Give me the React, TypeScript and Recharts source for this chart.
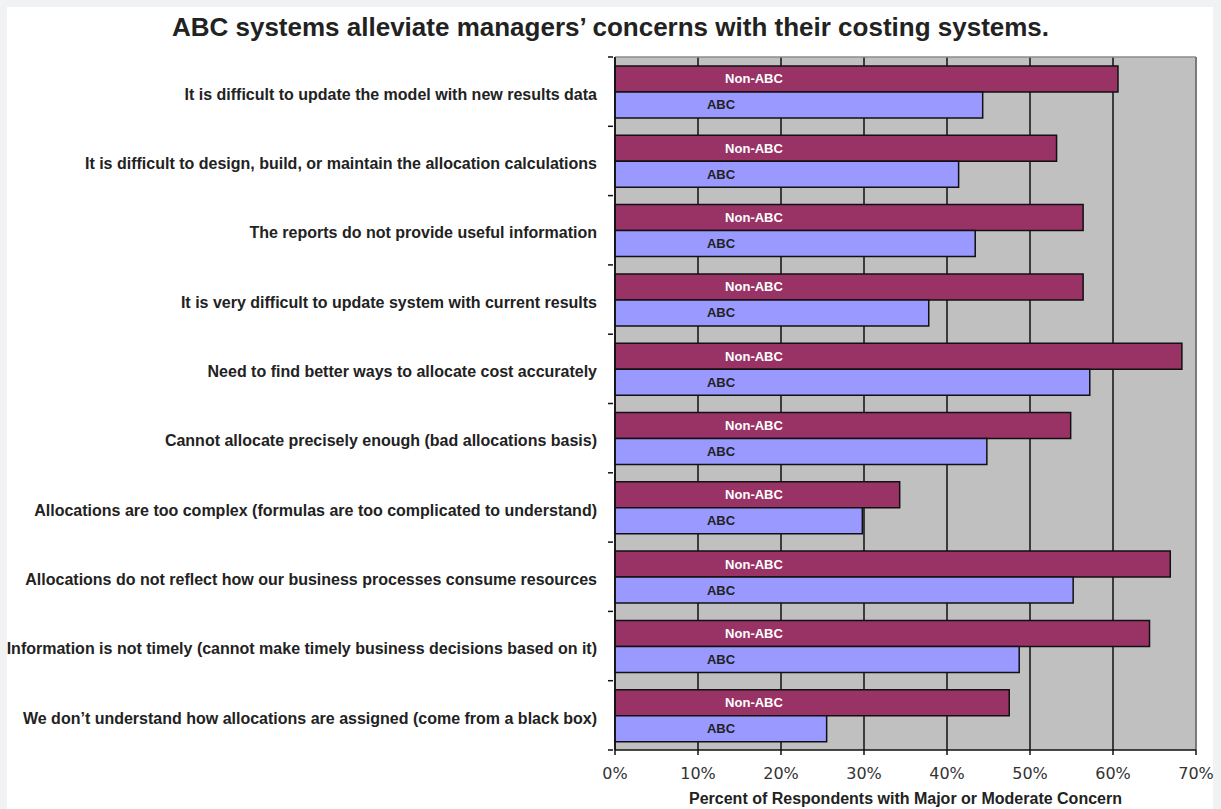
import React from 'react';
import {
  BarChart,
  Bar,
  XAxis,
  YAxis,
  CartesianGrid,
  ReferenceLine,
  LabelList,
  Label,
} from 'recharts';

const concerns = [
  'It is difficult to update the model with new results data',
  'It is difficult to design, build, or maintain the allocation calculations',
  'The reports do not provide useful information',
  'It is very difficult to update system with current results',
  'Need to find better ways to allocate cost accurately',
  'Cannot allocate precisely enough (bad allocations basis)',
  'Allocations are too complex (formulas are too complicated to understand)',
  'Allocations do not reflect how our business processes consume resources',
  'Information is not timely (cannot make timely business decisions based on it)',
  'We don’t understand how allocations are assigned (come from a black box)',
];

const nonAbcShare = [60.6, 53.2, 56.4, 56.4, 68.3, 54.9, 34.3, 66.9, 64.4, 47.5];
const abcShare = [44.3, 41.4, 43.4, 37.8, 57.2, 44.8, 29.8, 55.2, 48.7, 25.5];

const percentTicks = [0, 10, 20, 30, 40, 50, 60, 70];

const data = concerns.map((label, i) => ({
  label,
  nonAbc: nonAbcShare[i],
  abc: abcShare[i],
}));

const W = 1221;
const H = 809;
const PLOT_TOP = 57;
const PLOT_BOTTOM = 750;
const BAND = (PLOT_BOTTOM - PLOT_TOP) / concerns.length;
const FONT = '"Liberation Sans", Arial, Helvetica, sans-serif';

// category label plus the small tick that sits on the band boundary
const ConcernTick = (props: any) => {
  const { x, y, payload, index } = props;
  const top = y - BAND / 2;
  return (
    <g>
      <line x1={x - 5} x2={x} y1={top} y2={top} stroke="#111" strokeWidth={1.5} />
      {index === concerns.length - 1 && (
        <line x1={x - 5} x2={x} y1={top + BAND} y2={top + BAND} stroke="#111" strokeWidth={1.5} />
      )}
      <text
        x={x - 16}
        y={y + 4}
        textAnchor="end"
        dominantBaseline="middle"
        fontFamily={FONT}
        fontWeight="bold"
        fontSize={16}
        fill="#222"
      >
        {payload.value}
      </text>
    </g>
  );
};

const seriesTag = (text: string, dx: number, color: string) => (p: any) => (
  <text
    x={p.x + dx}
    y={p.y + p.height / 2 + 1}
    textAnchor="middle"
    dominantBaseline="middle"
    fontFamily={FONT}
    fontWeight="bold"
    fontSize={13}
    fill={color}
  >
    {text}
  </text>
);

export default function App() {
  return (
    <div style={{ position: 'absolute', left: 0, top: 0, width: W, height: H, background: '#f1f2f4' }}>
      <div style={{ position: 'absolute', left: 7, top: 7, width: 1206, height: H - 7, background: '#fff' }} />
      <div
        style={{
          position: 'absolute',
          left: 0,
          top: 11,
          width: 1221,
          textAlign: 'center',
          fontFamily: FONT,
          fontWeight: 'bold',
          fontSize: 26,
          lineHeight: '32px',
          color: '#222',
        }}
      >
        ABC systems alleviate managers’ concerns with their costing systems.
      </div>
      <div style={{ position: 'absolute', left: 0, top: 0 }}>
        <BarChart
          width={W}
          height={H}
          data={data}
          layout="vertical"
          margin={{ top: PLOT_TOP, right: 25, bottom: 0, left: 0 }}
          barSize={26}
          barGap={0}
        >
          <CartesianGrid fill="#c0c0c0" horizontal={false} stroke="#111" strokeWidth={1.5} />
          <XAxis
            type="number"
            domain={[0, 70]}
            ticks={percentTicks}
            tickFormatter={(v: number) => `${v}%`}
            height={H - PLOT_BOTTOM}
            axisLine={{ stroke: '#111', strokeWidth: 1.5 }}
            tickLine={{ stroke: '#111', strokeWidth: 1.5 }}
            tickSize={5}
            tickMargin={13}
            tick={{ fontFamily: '"DejaVu Sans", Verdana, sans-serif', fontSize: 16, fill: '#333' }}
          >
            <Label
              value="Percent of Respondents with Major or Moderate Concern"
              position="insideBottom"
              offset={5}
              style={{ fontFamily: FONT, fontWeight: 'bold', fontSize: 16, fill: '#222' }}
            />
          </XAxis>
          <YAxis
            type="category"
            dataKey="label"
            width={615}
            axisLine={{ stroke: '#111', strokeWidth: 1.5 }}
            tickLine={false}
            tickSize={0}
            tick={<ConcernTick />}
            interval={0}
          />
          <ReferenceLine x={70} stroke="#8c8c8c" strokeWidth={1.5} />
          <ReferenceLine y={concerns[0]} position="start" stroke="#8c8c8c" strokeWidth={1.5} />
          <Bar dataKey="nonAbc" fill="#993366" stroke="#111" strokeWidth={1.5} isAnimationActive={false}>
            <LabelList dataKey="nonAbc" content={seriesTag('Non-ABC', 139, '#fff')} />
          </Bar>
          <Bar dataKey="abc" fill="#9999ff" stroke="#111" strokeWidth={1.5} isAnimationActive={false}>
            <LabelList dataKey="abc" content={seriesTag('ABC', 106, '#222')} />
          </Bar>
        </BarChart>
      </div>
    </div>
  );
}
